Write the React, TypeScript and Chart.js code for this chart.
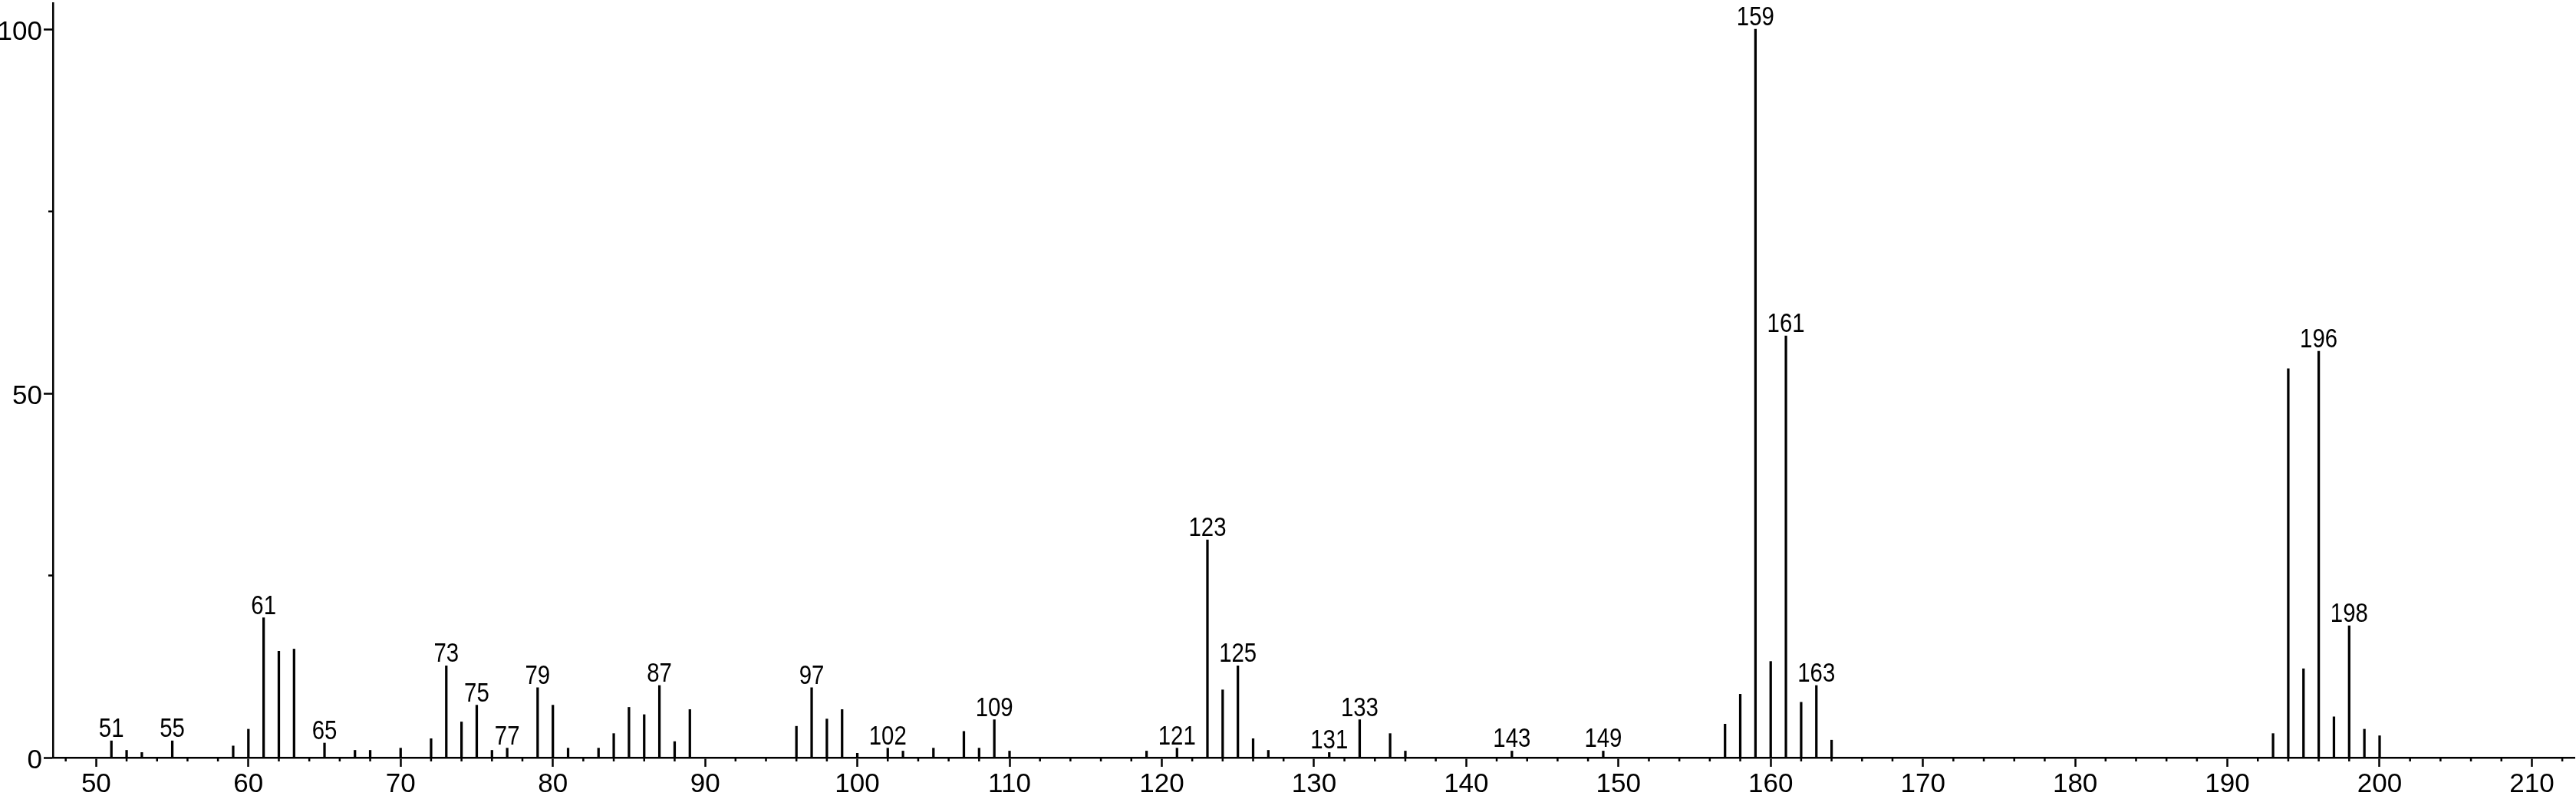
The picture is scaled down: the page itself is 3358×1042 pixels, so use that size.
import React, { useEffect, useRef } from 'react';
import { Chart, registerables } from 'chart.js';

Chart.register(...registerables);

const masses = [
  51, 52, 53, 55, 59, 60, 61, 62, 63, 65, 67, 68, 70, 72, 73, 74, 75, 76, 77, 79,
  80, 81, 83, 84, 85, 86, 87, 88, 89, 96, 97, 98, 99, 100, 102, 103, 105, 107, 108, 109,
  110, 119, 121, 123, 124, 125, 126, 127, 131, 133, 135, 136, 143, 149, 157, 158, 159, 160, 161, 162,
  163, 164, 193, 194, 195, 196, 197, 198, 199, 200,
];

const intensities = [
  2.3, 1.0, 0.7, 2.3, 1.6, 3.9, 19.2, 14.6, 14.9, 2.0, 1.0, 1.0, 1.3, 2.6, 12.6, 4.9, 7.2, 1.0, 1.3, 9.6,
  7.2, 1.3, 1.3, 3.3, 6.9, 5.9, 9.9, 2.2, 6.6, 4.3, 9.6, 5.3, 6.6, 0.6, 1.3, 0.9, 1.3, 3.6, 1.3, 5.2,
  0.9, 0.9, 1.3, 29.9, 9.3, 12.6, 2.6, 1.0, 0.7, 5.2, 3.3, 0.9, 0.9, 0.9, 4.6, 8.7, 100, 13.2, 57.9, 7.6,
  9.9, 2.4, 3.3, 53.4, 12.2, 55.8, 5.6, 18.1, 3.9, 3.0,
];

const labeledMasses = [
  51, 55, 61, 65, 73, 75, 77, 79, 87, 97, 102, 109, 121, 123, 125, 131, 133, 143, 149, 159, 161, 163, 196, 198,
];

const xTickValues = [50, 60, 70, 80, 90, 100, 110, 120, 130, 140, 150, 160, 170, 180, 190, 200, 210];
const xMinorTickValues = [
  48, 52, 54, 56, 58, 62, 64, 66, 68, 72, 74, 76, 78, 82, 84, 86, 88, 92, 94, 96, 98,
  102, 104, 106, 108, 112, 114, 116, 118, 122, 124, 126, 128, 132, 134, 136, 138,
  142, 144, 146, 148, 152, 154, 156, 158, 162, 164, 166, 168, 172, 174, 176, 178,
  182, 184, 186, 188, 192, 194, 196, 198, 202, 204, 206, 208, 212,
];
const yTickValues = [0, 50, 100];
const yMinorTickValues = [25, 75];

const X_MIN = 47.16;
const X_MAX = 212.8;
const Y_MAX = 103.6;

const FONT = "'Liberation Sans', Arial, Helvetica, sans-serif";

const minorTicksPlugin = {
  id: 'minorTicks',
  afterDraw(chart: any) {
    const { ctx, chartArea } = chart;
    const xs = chart.scales.x;
    const ys = chart.scales.y;
    ctx.save();
    ctx.strokeStyle = '#000';
    ctx.lineWidth = 2.5;
    ctx.beginPath();
    xMinorTickValues.forEach((v) => {
      const x = xs.getPixelForValue(v);
      ctx.moveTo(x, chartArea.bottom);
      ctx.lineTo(x, chartArea.bottom + 5);
    });
    yMinorTickValues.forEach((v) => {
      const y = ys.getPixelForValue(v);
      ctx.moveTo(chartArea.left, y);
      ctx.lineTo(chartArea.left - 6, y);
    });
    ctx.stroke();
    ctx.restore();
  },
};

const peakLabelsPlugin = {
  id: 'peakLabels',
  afterDatasetsDraw(chart: any) {
    const { ctx } = chart;
    const meta = chart.getDatasetMeta(0);
    ctx.save();
    ctx.fillStyle = '#000';
    ctx.font = `35px ${FONT}`;
    ctx.textAlign = 'center';
    ctx.textBaseline = 'alphabetic';
    labeledMasses.forEach((m) => {
      const idx = masses.indexOf(m);
      if (idx < 0) return;
      const el = meta.data[idx];
      ctx.save();
      ctx.translate(el.x, el.y - 5);
      ctx.scale(0.84, 1);
      ctx.fillText(String(m), 0, 0);
      ctx.restore();
    });
    ctx.restore();
  },
};

export default function App() {
  const canvasRef = useRef<HTMLCanvasElement | null>(null);

  useEffect(() => {
    const canvas = canvasRef.current;
    if (!canvas) return;
    const chart = new Chart(canvas, {
      type: 'bar',
      data: {
        datasets: [
          {
            data: masses.map((m, i) => ({ x: m, y: intensities[i] })),
            backgroundColor: '#000',
            borderWidth: 0,
            barThickness: 2.6,
          },
        ],
      },
      options: {
        animation: false,
        responsive: false,
        maintainAspectRatio: false,
        devicePixelRatio: 1,
        layout: { padding: { top: 4, right: 2, left: 0, bottom: 0 } },
        plugins: { legend: { display: false }, tooltip: { enabled: false } },
        scales: {
          x: {
            type: 'linear',
            min: X_MIN,
            max: X_MAX,
            offset: false,
            grid: {
              display: true,
              drawOnChartArea: false,
              drawTicks: true,
              tickLength: 12,
              tickWidth: 2.5,
              tickColor: '#000',
              offset: false,
            },
            border: { display: true, color: '#000', width: 2.5 },
            ticks: {
              color: '#000',
              font: { family: FONT, size: 35 },
              padding: 2,
              maxRotation: 0,
              autoSkip: false,
              callback: (v: any) => String(v),
            },
            afterBuildTicks: (axis: any) => {
              axis.ticks = xTickValues.map((v) => ({ value: v }));
            },
            afterFit: (s: any) => {
              s.height = 54;
              s.paddingLeft = 0;
              s.paddingRight = 0;
            },
          },
          y: {
            type: 'linear',
            min: 0,
            max: Y_MAX,
            grid: {
              display: true,
              drawOnChartArea: false,
              drawTicks: true,
              tickLength: 12,
              tickWidth: 2.5,
              tickColor: '#000',
            },
            border: { display: true, color: '#000', width: 2.5 },
            ticks: {
              color: '#000',
              font: { family: FONT, size: 35 },
              padding: 2,
              labelOffset: 4,
              callback: (v: any) => String(v),
            },
            afterBuildTicks: (axis: any) => {
              axis.ticks = yTickValues.map((v) => ({ value: v }));
            },
            afterFit: (s: any) => {
              s.width = 69;
              s.paddingTop = 0;
              s.paddingBottom = 0;
            },
          },
        },
      },
      plugins: [minorTicksPlugin, peakLabelsPlugin],
    } as any);
    return () => {
      chart.destroy();
    };
  }, []);

  return (
    <div style={{ position: 'fixed', left: 0, top: 0, width: 3358, height: 1042, background: '#fff' }}>
      <canvas ref={canvasRef} width={3358} height={1042} style={{ display: 'block', width: 3358, height: 1042 }} />
    </div>
  );
}
